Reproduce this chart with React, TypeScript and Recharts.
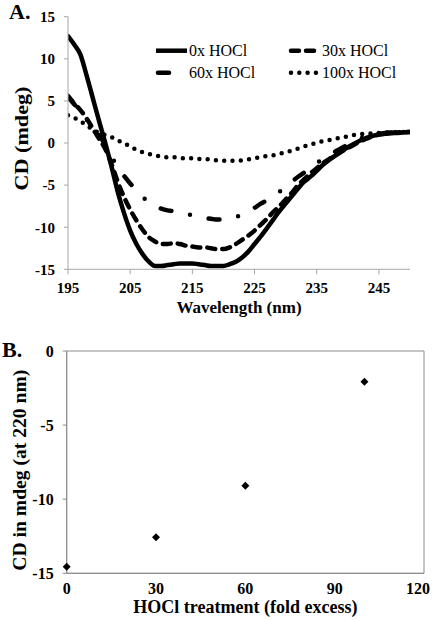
import React from 'react';
import { LineChart, Line, XAxis, YAxis, ScatterChart, Scatter, ReferenceArea } from 'recharts';

const wavelengths = [195, 196, 197, 198, 199, 200, 201, 202, 203, 204, 205, 206, 207, 208, 209, 210, 211, 212, 213, 214, 215, 216, 217, 218, 219, 220, 221, 222, 223, 224, 225, 226, 227, 228, 229, 230, 231, 232, 233, 234, 235, 236, 237, 238, 239, 240, 241, 242, 243, 244, 245, 246, 247, 248, 249, 250];
const cd0x = [12.7, 11.7, 10.5, 8.0, 5.3, 2.6, 0.0, -2.8, -5.8, -8.3, -10.4, -12.0, -13.2, -14.1, -14.6, -14.6, -14.5, -14.4, -14.3, -14.3, -14.3, -14.4, -14.5, -14.6, -14.6, -14.6, -14.4, -14.1, -13.6, -12.9, -12.0, -11.1, -10.1, -9.1, -8.1, -7.2, -6.3, -5.4, -4.6, -4.0, -3.3, -2.6, -2.0, -1.5, -1.0, -0.5, -0.1, 0.3, 0.6, 0.85, 1.0, 1.1, 1.15, 1.2, 1.25, 1.3];
const cd30x = [5.6, 4.7, 3.9, 2.9, 1.7, 0.5, -0.7, -2.5, -4.6, -6.4, -7.9, -9.2, -10.3, -11.2, -11.7, -12.0, -12.0, -11.9, -12.0, -12.2, -12.3, -12.4, -12.4, -12.5, -12.6, -12.6, -12.4, -12.0, -11.5, -11.0, -10.4, -9.7, -9.0, -8.2, -7.5, -6.7, -5.9, -5.0, -4.3, -3.6, -3.0, -2.4, -1.9, -1.4, -1.0, -0.6, -0.2, 0.2, 0.5, 0.8, 1.0, 1.1, 1.2, 1.25, 1.3, 1.3];
const cd60x = [5.5, 4.6, 3.7, 2.8, 1.8, 0.9, -0.2, -1.6, -2.9, -3.9, -4.8, -5.6, -6.4, -7.0, -7.5, -7.8, -8.0, -8.1, -8.3, -8.4, -8.6, -8.8, -8.9, -9.0, -9.1, -9.1, -9.0, -8.8, -8.5, -8.1, -7.7, -7.2, -6.8, -6.3, -5.8, -5.2, -4.6, -4.0, -3.5, -2.9, -2.4, -1.9, -1.5, -1.0, -0.6, -0.2, 0.2, 0.5, 0.8, 1.0, 1.1, 1.2, 1.25, 1.3, 1.3, 1.3];
const cd100x = [3.3, 3.0, 2.6, 2.1, 1.6, 1.2, 0.95, 0.7, 0.3, 0.0, -0.45, -0.8, -1.1, -1.3, -1.5, -1.6, -1.7, -1.7, -1.8, -1.8, -1.8, -1.9, -1.9, -2.0, -2.05, -2.1, -2.1, -2.1, -2.05, -1.95, -1.8, -1.7, -1.55, -1.45, -1.3, -1.1, -0.9, -0.65, -0.4, -0.2, 0.05, 0.2, 0.35, 0.5, 0.65, 0.8, 0.95, 1.05, 1.1, 1.15, 1.2, 1.25, 1.25, 1.3, 1.3, 1.3];
const seriesNames = ['0x HOCl', '30x HOCl', '60x HOCl', '100x HOCl'];
const xTicksA = [195, 205, 215, 225, 235, 245];
const yTicksA = [-15, -10, -5, 0, 5, 10, 15];

const treatment = [0, 30, 60, 100];
const cd220 = [-14.55, -12.57, -9.09, -2.07];
const xTicksB = [0, 30, 60, 90, 120];
const yTicksB = [-15, -10, -5, 0];

const dataA = wavelengths.map((w, i) => ({ w, s0: cd0x[i], s30: cd30x[i], s60: cd60x[i], s100: cd100x[i] }));
const dataB = treatment.map((t, i) => ({ t, v: cd220[i] }));

const SERIF = "'Liberation Serif', 'Times New Roman', serif";
const styles = [
  { key: 's0', dash: undefined as string | undefined, width: 4.5 },
  { key: 's30', dash: '8 7', width: 4.5 },
  { key: 's60', dash: '11 19 0 19', width: 4.5 },
  { key: 's100', dash: '0 8.3', width: 4.5 },
];

const xTitle = (text: string, size: number, dy: number) => (props: any) => {
  const vb = props.viewBox || {};
  return (
    <text x={vb.x + vb.width / 2} y={vb.y + dy} textAnchor="middle" fontFamily={SERIF} fontWeight="bold" fontSize={size} fill="#000">
      {text}
    </text>
  );
};

const yTitle = (text: string, size: number, len: number, cxOff: number, cyOff: number) => (props: any) => {
  const vb = props.viewBox || {};
  const cx = vb.x + cxOff;
  const cy = vb.y + vb.height / 2 + cyOff;
  return (
    <text x={cx} y={cy} transform={`rotate(-90 ${cx} ${cy})`} textAnchor="middle" dominantBaseline="central"
      textLength={len} lengthAdjust="spacingAndGlyphs" fontFamily={SERIF} fontWeight="bold" fontSize={size} fill="#000">
      {text}
    </text>
  );
};

const Diamond = (props: any) => {
  const { cx, cy } = props;
  const r = 4;
  return <path d={`M${cx},${cy - r}L${cx + r},${cy}L${cx},${cy + r}L${cx - r},${cy}Z`} fill="#000" />;
};

const tickA = { fontFamily: SERIF, fontWeight: 'bold', fontSize: 15, fill: '#000' };
const tickB = { fontFamily: SERIF, fontWeight: 'bold', fontSize: 16, fill: '#000' };

const BXTick = (props: any) => {
  const { x, y, payload } = props;
  const label = String(payload.value);
  const halfW = label.length * 4;
  const fits = x + halfW <= 430;
  return (
    <text x={fits ? x : 430} y={y} dy="0.71em" textAnchor={fits ? 'middle' : 'end'} {...tickB}>
      {label}
    </text>
  );
};

export default function App() {
  const legendPos = [
    { x: 156, y: 50.7 },
    { x: 289, y: 50.7 },
    { x: 156, y: 72.7 },
    { x: 289, y: 72.7 },
  ];
  return (
    <div style={{ position: 'absolute', left: 0, top: 0, width: 432, height: 620, background: '#fff', overflow: 'hidden' }}>
      <div style={{ position: 'absolute', left: 0, top: 0 }}>
        <LineChart width={432} height={320} data={dataA} margin={{ top: 16.7, right: 22, bottom: 0, left: 0 }}>
          <XAxis dataKey="w" type="number" domain={[195, 250]} ticks={xTicksA} allowDataOverflow
            stroke="#a6a6a6" tickSize={5} tickMargin={8} tick={tickA} height={50.7}
            label={{ content: xTitle('Wavelength (nm)', 17, 44) }} />
          <YAxis type="number" domain={[-15, 15]} ticks={yTicksA} width={68} interval={0}
            stroke="#a6a6a6" tickSize={4} tickMargin={9} tick={tickA}
            label={{ content: yTitle('CD (mdeg)', 19, 104, 21, -4.5) }} />
          {styles.map((s) => (
            <Line key={s.key} dataKey={s.key} type="monotone" stroke="#000" strokeWidth={s.width}
              strokeDasharray={s.dash} strokeLinecap="round" strokeLinejoin="round"
              dot={false} activeDot={false} isAnimationActive={false} />
          ))}
        </LineChart>
      </div>
      <div style={{ position: 'absolute', left: 0, top: 320 }}>
        <ScatterChart width={432} height={300} margin={{ top: 31, right: 8, bottom: 0, left: 0 }}>
          <XAxis dataKey="t" type="number" domain={[0, 120]} ticks={xTicksB} interval={0}
            stroke="#8c8c8c" tickLine={false} tickSize={0} tickMargin={9} tick={<BXTick />} height={46.7}
            label={{ content: xTitle('HOCl treatment (fold excess)', 18, 40) }} />
          <YAxis dataKey="v" type="number" domain={[-15, 0]} ticks={yTicksB} width={66.7} interval={0}
            stroke="#8c8c8c" tickSize={4} tickMargin={9} tick={tickB}
            label={{ content: yTitle('CD in mdeg (at 220 nm)', 19, 201, 19.5, 8) }} />
          <ReferenceArea x1={0} x2={120} y1={-15} y2={0} fill="none" stroke="#8c8c8c" strokeWidth={1} ifOverflow="visible" />
          <Scatter data={dataB} fill="#000" shape={<Diamond />} isAnimationActive={false} />
        </ScatterChart>
      </div>
      <svg width={432} height={620} style={{ position: 'absolute', left: 0, top: 0, pointerEvents: 'none' }}>
        <text x={9} y={18.5} fontFamily={SERIF} fontWeight="bold" fontSize={22} fill="#000">A.</text>
        <text x={2} y={356.7} fontFamily={SERIF} fontWeight="bold" fontSize={22} fill="#000">B.</text>
        {styles.map((s, i) => (
          <g key={s.key}>
            <line x1={legendPos[i].x + (s.dash ? 2 : 0)} x2={legendPos[i].x + 31} y1={legendPos[i].y} y2={legendPos[i].y}
              stroke="#000" strokeWidth={s.width} strokeDasharray={s.dash} strokeLinecap={s.dash ? 'round' : 'butt'} />
            <text x={legendPos[i].x + 33} y={legendPos[i].y + 5.5} fontFamily={SERIF} fontSize={16} fill="#000">
              {seriesNames[i]}
            </text>
          </g>
        ))}
      </svg>
    </div>
  );
}
